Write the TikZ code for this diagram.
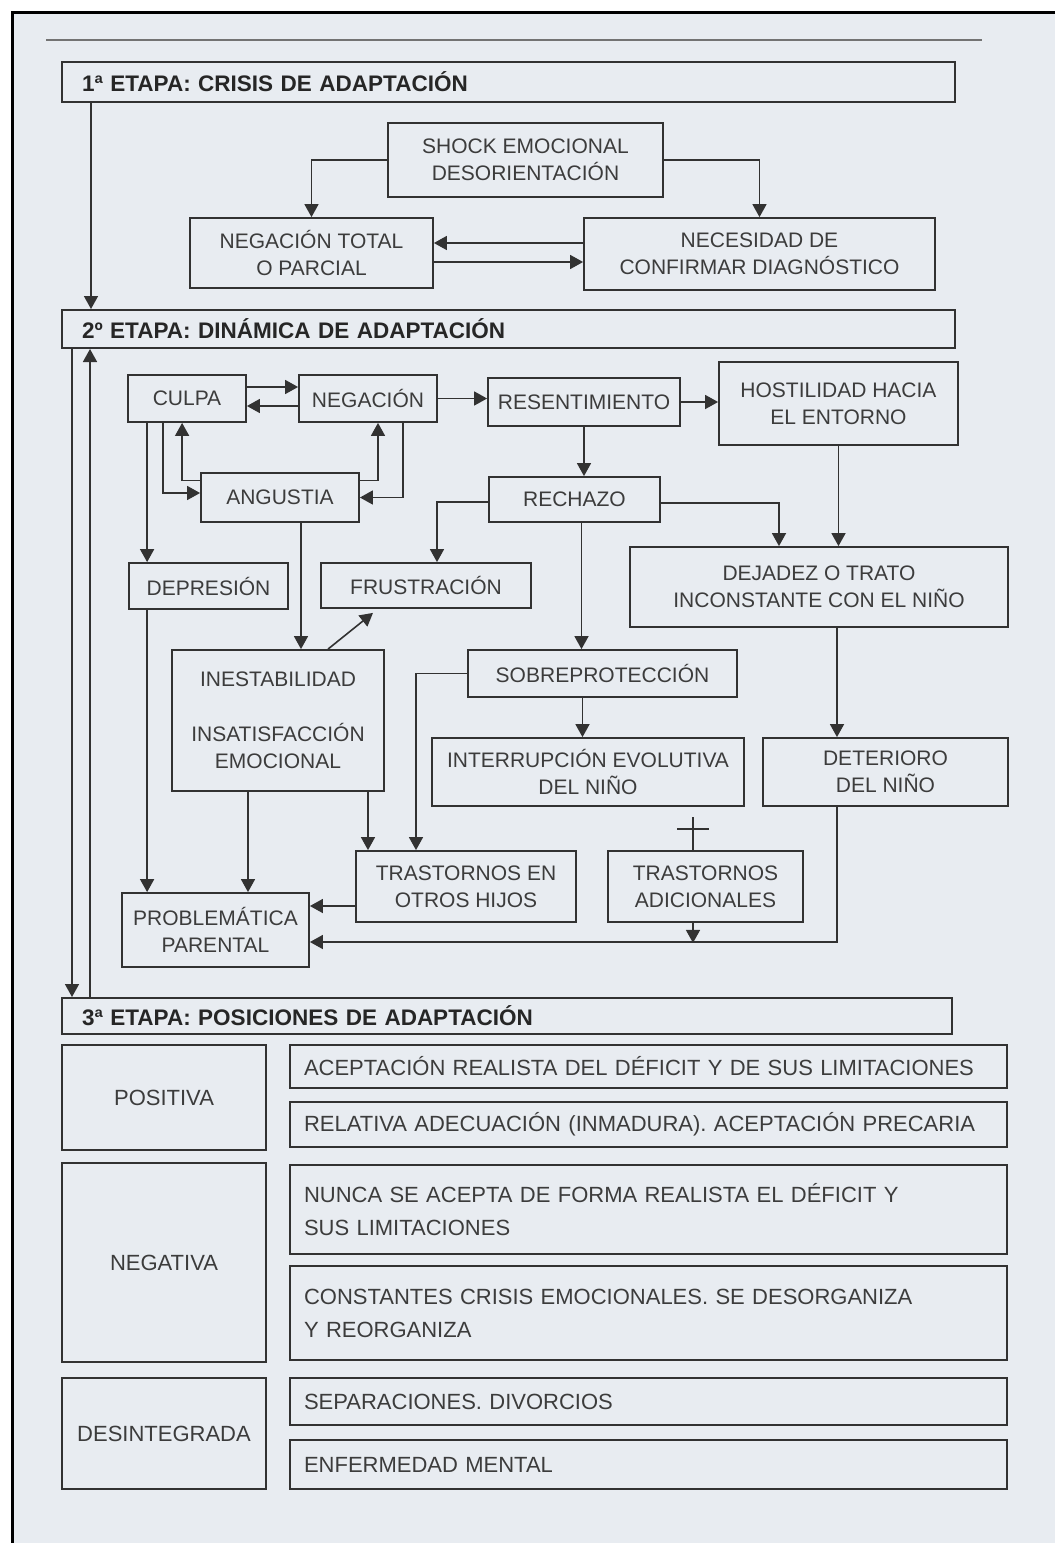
\documentclass[tikz,border=0pt]{standalone}
\usepackage{fontspec}
\setmainfont{Liberation Sans}
\usepackage{tikz}
\usetikzlibrary{arrows}
\usetikzlibrary{arrows.meta}
\usetikzlibrary{calc}
\usetikzlibrary{positioning}
\definecolor{fondo}{RGB}{232,236,241}
\definecolor{trazo}{RGB}{50,50,50}
\definecolor{letra}{RGB}{60,60,60}
\tikzstyle{etapa}=[rectangle, draw=trazo, line width=2pt, inner ysep=0pt, inner xsep=20pt, text width=853pt, minimum height=40pt, align=left, text=black!85, font=\fontsize{22.5}{27}\selectfont\bfseries]
\tikzstyle{caja}=[rectangle, draw=trazo, line width=1.8pt, inner sep=0pt, align=center, text=letra, font=\fontsize{21}{27}\selectfont]
\tikzstyle{fila}=[rectangle, draw=trazo, line width=1.8pt, inner xsep=14pt, inner ysep=0pt, text width=689pt, align=left, text=letra, font=\fontsize{22}{33}\selectfont]
\tikzstyle{tran}=[draw=trazo, line width=1.6pt, ->, >={Triangle[width=14pt,length=13pt]}]
\tikzstyle{linea}=[draw=trazo, line width=1.6pt]

\begin{document}
\begin{tikzpicture}[x=1pt, y=-1pt]

\fill[white] (0,0) rectangle (1055,1543);
\fill[fondo] (12,12) rectangle (1055,1543);
\useasboundingbox (0,0) rectangle (1055,1543);
\draw[line width=3pt] (12,1543) -- (12,12) -- (1055,12);
\draw[line width=2pt, black!55] (46,40) -- (982,40);

% 1a etapa
\node[etapa] (et1) at (508.5,82) {1ª ETAPA: CRISIS DE ADAPTACIÓN};

\node[caja, minimum width=275pt, minimum height=74pt] (shock) at (525.5,160)
{SHOCK EMOCIONAL\\DESORIENTACIÓN};

\node[caja, minimum width=243pt, minimum height=70pt] (negtot) at (311.5,253)
{NEGACIÓN TOTAL\\O PARCIAL};

\node[caja, minimum width=351pt, minimum height=72pt] (necesidad) at (759.5,254)
{NECESIDAD DE\\CONFIRMAR DIAGNÓSTICO};

% 2a etapa
\node[etapa, minimum height=38pt] (et2) at (508.5,329) {2º ETAPA: DINÁMICA DE ADAPTACIÓN};

\node[caja, minimum width=118pt, minimum height=47pt] (culpa) at (187,398.5) {CULPA};
\node[caja, minimum width=138pt, minimum height=47pt] (negacion) at (368,398.5) {NEGACIÓN};
\node[caja, minimum width=192pt, minimum height=48pt] (resent) at (584,402) {RESENTIMIENTO};
\node[caja, minimum width=239pt, minimum height=83pt] (hostil) at (838.5,403.5)
{HOSTILIDAD HACIA\\EL ENTORNO};
\node[caja, minimum width=158pt, minimum height=49pt] (angustia) at (280,497.5) {ANGUSTIA};
\node[caja, minimum width=171pt, minimum height=45pt] (rechazo) at (574.5,499.5) {RECHAZO};
\node[caja, minimum width=159pt, minimum height=46pt] (depresion) at (208.5,586) {DEPRESIÓN};
\node[caja, minimum width=210pt, minimum height=45pt] (frustr) at (426,585.5) {FRUSTRACIÓN};
\node[caja, minimum width=378pt, minimum height=80pt] (dejadez) at (819,587)
{DEJADEZ O TRATO\\INCONSTANTE CON EL NIÑO};
\node[caja, minimum width=212pt, minimum height=141pt] (inestab) at (278,720.5)
{INESTABILIDAD\\[28pt]INSATISFACCIÓN\\EMOCIONAL};
\node[caja, minimum width=269pt, minimum height=47pt] (sobrep) at (602.5,673.5) {SOBREPROTECCIÓN};
\node[caja, minimum width=312pt, minimum height=68pt] (interr) at (588,772)
{INTERRUPCIÓN EVOLUTIVA\\DEL NIÑO};
\node[caja, minimum width=245pt, minimum height=68pt] (deterioro) at (885.5,772)
{DETERIORO\\DEL NIÑO};
\node[caja, minimum width=220pt, minimum height=71pt] (otroshijos) at (466,886.5)
{TRASTORNOS EN\\OTROS HIJOS};
\node[caja, minimum width=195pt, minimum height=71pt] (adicion) at (705.5,886.5)
{TRASTORNOS\\ADICIONALES};
\node[caja, minimum width=187pt, minimum height=74pt] (problem) at (215.5,930)
{PROBLEMÁTICA\\PARENTAL};

% 3a etapa
\node[etapa, minimum height=36pt, text width=850pt] (et3) at (507,1016) {3ª ETAPA: POSICIONES DE ADAPTACIÓN};

\node[caja, minimum width=204pt, minimum height=105pt, font=\fontsize{22}{27}\selectfont] (positiva) at (164,1097.5) {POSITIVA};
\node[caja, minimum width=204pt, minimum height=199pt, font=\fontsize{22}{27}\selectfont] (negativa) at (164,1262.5) {NEGATIVA};
\node[caja, minimum width=204pt, minimum height=111pt, font=\fontsize{22}{27}\selectfont] (desint) at (164,1433.5) {DESINTEGRADA};

\node[fila, minimum height=43pt] (acept) at (648.5,1066.5) {ACEPTACIÓN REALISTA DEL DÉFICIT Y DE SUS LIMITACIONES};
\node[fila, minimum height=45pt] (relativa) at (648.5,1124.5) {RELATIVA ADECUACIÓN (INMADURA). ACEPTACIÓN PRECARIA};
\node[fila, minimum height=89pt] (nunca) at (648.5,1209.5) {NUNCA SE ACEPTA DE FORMA REALISTA EL DÉFICIT Y\\SUS LIMITACIONES};
\node[fila, minimum height=94pt] (constantes) at (648.5,1313) {CONSTANTES CRISIS EMOCIONALES. SE DESORGANIZA\\Y REORGANIZA};
\node[fila, minimum height=47pt] (separ) at (648.5,1401.5) {SEPARACIONES. DIVORCIOS};
\node[fila, minimum height=49pt] (enferm) at (648.5,1464.5) {ENFERMEDAD MENTAL};

% conexiones 1a etapa
\draw[tran] (shock) -| (negtot);
\draw[tran] (shock) -| (necesidad);
\draw[tran] ([yshift=11pt]necesidad.west) -- ([yshift=11pt]necesidad.west -| negtot.east);
\draw[tran] ([yshift=-9pt]negtot.east) -- ([yshift=-9pt]negtot.east -| necesidad.west);
\draw[tran] ([xshift=30pt]et1.south west) -- ([xshift=30pt]et2.north west);

% conexiones 2a etapa
\draw[tran] ([yshift=11.5pt]culpa.east) -- ([yshift=11.5pt]culpa.east -| negacion.west);
\draw[tran] ([yshift=-7.5pt]negacion.west) -- ([yshift=-7.5pt]negacion.west -| culpa.east);
\draw[tran] (negacion.east) -- (negacion.east -| resent.west);
\draw[tran] (resent.east) -- (resent.east -| hostil.west);
\draw[tran] ([xshift=20pt]culpa.south west) -- ([xshift=20pt]culpa.south west |- depresion.north);
\draw[tran] ([xshift=36pt]culpa.south west) |- ([yshift=4.5pt]angustia.west);
\draw[tran] ([yshift=17pt]angustia.west) -| ([xshift=55pt]culpa.south west);
\draw[tran] ([yshift=17pt]angustia.east) -| ([xshift=10pt]negacion.south);
\draw[tran] ([xshift=35pt]negacion.south) |- (angustia.east);
\draw[tran] ([xshift=21pt]angustia.south) -- ([xshift=21pt]angustia.south |- inestab.north);
\draw[tran] (resent.south) -- (resent.south |- rechazo.north);
\draw[tran] ([yshift=-2.5pt]rechazo.west) -| ([xshift=11pt]frustr.north);
\draw[tran] ([yshift=-3.5pt]rechazo.east) -| ([xshift=-40pt]dejadez.north);
\draw[tran] (hostil.south) -- (hostil.south |- dejadez.north);
\draw[tran] ([xshift=7pt]rechazo.south) -- ([xshift=7pt]rechazo.south |- sobrep.north);
\draw[tran] ([xshift=50pt]inestab.north) -- ([xshift=-53pt,yshift=-4pt]frustr.south);
\draw[tran] ([xshift=19pt]depresion.south west) -- ([xshift=19pt]depresion.south west |- problem.north);
\draw[tran] ([xshift=-30pt]inestab.south) -- ([xshift=-30pt]inestab.south |- problem.north);
\draw[tran] ([xshift=90pt]inestab.south) -- ([xshift=90pt]inestab.south |- otroshijos.north);
\draw[tran] (sobrep.west) -| ([xshift=-50pt]otroshijos.north);
\draw[tran] ([xshift=-20pt]sobrep.south) -- ([xshift=-20pt]sobrep.south |- interr.north);
\draw[tran] ([xshift=18pt]dejadez.south) -- ([xshift=18pt]dejadez.south |- deterioro.north);
\draw[tran] ([yshift=-19.5pt]otroshijos.west) -- ([yshift=-19.5pt]otroshijos.west -| problem.east);
\draw[tran] ([xshift=-48.5pt]deterioro.south) |- ([yshift=-12pt]problem.east);
\draw[tran] ([xshift=-12.5pt]adicion.south) -- ([xshift=-12.5pt,yshift=-20pt]adicion.south);
\draw[linea] ([xshift=-12.5pt,yshift=33pt]adicion.north) -- ([xshift=-12.5pt]adicion.north);
\draw[linea] ([xshift=-28.5pt,yshift=21pt]adicion.north) -- ([xshift=3.5pt,yshift=21pt]adicion.north);

% lineas laterales
\draw[tran] ([xshift=11pt]et2.south west) -- ([xshift=11pt]et3.north west);
\draw[tran] ([xshift=29pt]et3.north west) -- ([xshift=29pt]et2.south west);

\end{tikzpicture}
\end{document}
